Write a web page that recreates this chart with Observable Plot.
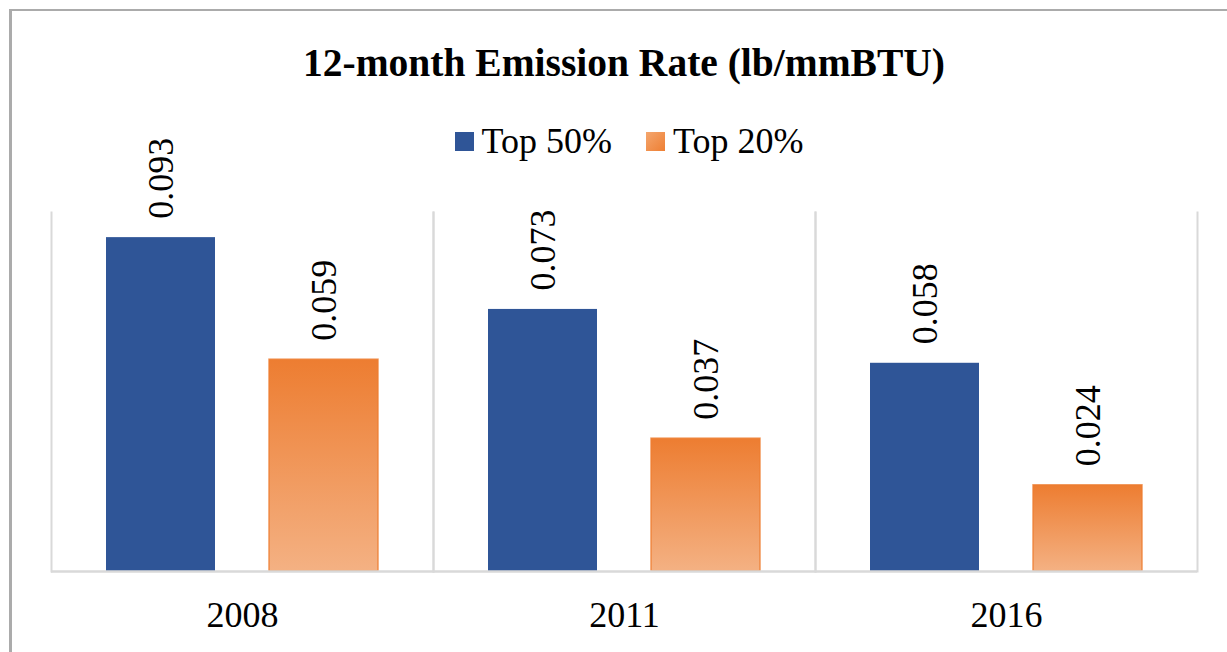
<!DOCTYPE html>
<html>
<head>
<meta charset="utf-8">
<script src="https://cdn.jsdelivr.net/npm/d3@7"></script>
<script src="https://cdn.jsdelivr.net/npm/@observablehq/plot@0.6"></script>
<style>
  html, body { margin: 0; padding: 0; background: #fff; overflow: hidden; }
  #wrap { position: relative; width: 1227px; height: 652px; font-family: "Liberation Serif", "Times New Roman", serif; }
  #border { position: absolute; left: 9px; top: 9px; width: 1300px; height: 700px; border-left: 3px solid #ABABAB; border-top: 2px solid #ABABAB; }
  #title { position: absolute; left: 50px; width: 1148px; top: 38px; text-align: center; font-weight: bold; font-size: 39.5px; line-height: 50px; color: #000; }
  #legend { position: absolute; left: 50px; width: 1148px; top: 118px; display: flex; justify-content: center; align-items: center; font-size: 36px; line-height: 46px; color: #000; padding-left: 10px; box-sizing: border-box; }
  .item { display: flex; align-items: center; margin: 0 17px; }
  .sw { width: 19px; height: 19px; margin-right: 8px; }
  #chart { position: absolute; left: 0; top: 0; }
  #chart svg text { font-family: "Liberation Serif", "Times New Roman", serif; }
</style>
</head>
<body>
<div id="wrap">
  <div id="border"></div>
  <div id="chart"></div>
  <div id="title"></div>
  <div id="legend"></div>
</div>
<script>
const title = "12-month Emission Rate (lb/mmBTU)";
const years = ["2008", "2011", "2016"];
const series = ["Top 50%", "Top 20%"];
const top50 = [0.093, 0.073, 0.058];
const top20 = [0.059, 0.037, 0.024];
const colors = ["#2F5597", "url(#orangeGrad)"];

const rows = [];
years.forEach((y, i) => {
  rows.push({year: y, series: series[0], value: top50[i]});
  rows.push({year: y, series: series[1], value: top20[i]});
});

document.getElementById("title").textContent = title;
const legend = document.getElementById("legend");
series.forEach((s, i) => {
  const it = document.createElement("div");
  it.className = "item";
  const sw = document.createElement("div");
  sw.className = "sw";
  sw.style.background = i === 0 ? "#2F5597" : "linear-gradient(135deg, #F4A66E, #EE7F33)";
  const tx = document.createElement("span");
  tx.textContent = s;
  it.appendChild(sw); it.appendChild(tx);
  legend.appendChild(it);
});

const serif = "'Liberation Serif', 'Times New Roman', serif";
const gridColor = "#D9D9D9";
const chart = Plot.plot({
  width: 1227,
  height: 652,
  marginTop: 212,
  marginBottom: 81,
  marginLeft: 50,
  marginRight: 29,
  style: {fontFamily: serif, fontSize: "36px", color: "#000", background: "transparent"},
  fx: {domain: years, padding: 0, label: null, tickSize: 0, tickPadding: 30},
  x: {domain: series, paddingInner: 0.33, paddingOuter: 0.335, axis: null},
  y: {domain: [0, 0.1], axis: null},
  facet: {data: rows, x: "year"},
  marks: [
    Plot.frame({anchor: "left", stroke: gridColor, strokeWidth: 2}),
    Plot.frame({anchor: "right", stroke: gridColor, strokeWidth: 2}),
    Plot.barY(rows, {filter: d => d.series === series[0], x: "series", y: "value", fill: colors[0]}),
    Plot.barY(rows, {filter: d => d.series === series[1], x: "series", y: "value", fill: colors[1], stroke: "#ED7D31", strokeWidth: 1.5, strokeOpacity: 0.8}),
    Plot.ruleY([0], {stroke: gridColor, strokeWidth: 2.5}),
    Plot.text(rows, {x: "series", y: "value", text: d => d.value.toFixed(3), rotate: -90, textAnchor: "start", dy: -19, fontSize: 36, fontFamily: serif, fill: "#000"})
  ]
});

const ns = "http://www.w3.org/2000/svg";
const defs = document.createElementNS(ns, "defs");
const grad = document.createElementNS(ns, "linearGradient");
grad.setAttribute("id", "orangeGrad");
grad.setAttribute("x1", "0"); grad.setAttribute("y1", "0");
grad.setAttribute("x2", "0"); grad.setAttribute("y2", "1");
[["0%", "#ED7D31"], ["100%", "#F4B183"]].forEach(([o, c]) => {
  const st = document.createElementNS(ns, "stop");
  st.setAttribute("offset", o); st.setAttribute("stop-color", c);
  grad.appendChild(st);
});
defs.appendChild(grad);
chart.insertBefore(defs, chart.firstChild);
document.getElementById("chart").appendChild(chart);
</script>
</body>
</html>
